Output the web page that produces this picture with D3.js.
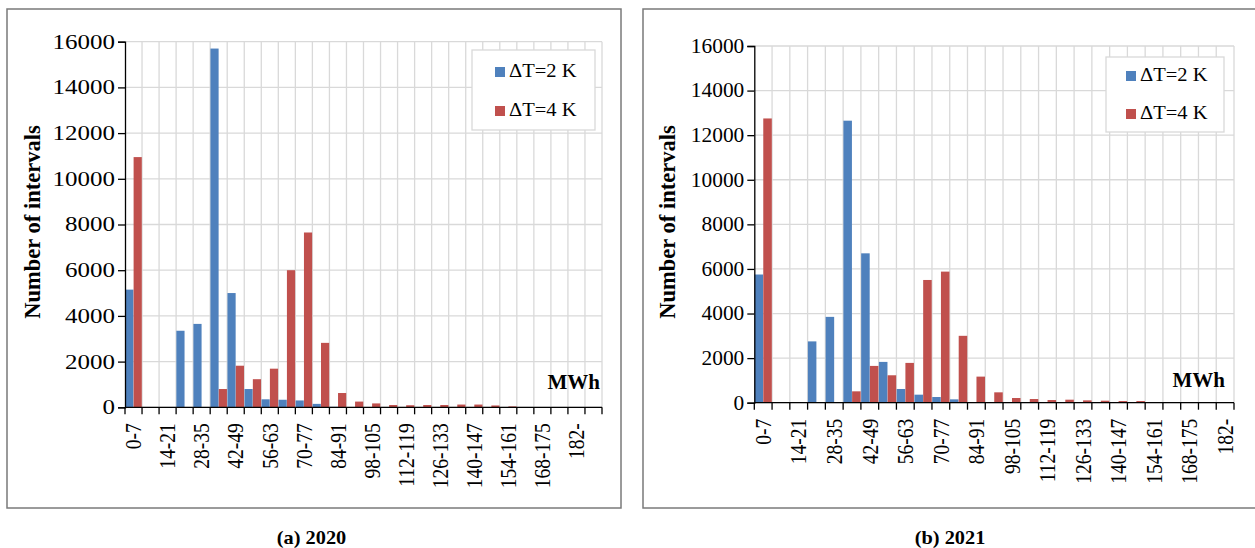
<!DOCTYPE html>
<html><head><meta charset="utf-8">
<script src="https://cdn.jsdelivr.net/npm/d3@7"></script>
<style>
html,body{margin:0;padding:0;background:#fff;}
svg{display:block;font-family:"Liberation Serif","Times New Roman",serif;}
</style></head>
<body>
<svg id="chart" width="1255" height="548"></svg>
<script>
// ---- data ----
const categories2020 = ["0-7","7-14","14-21","21-28","28-35","35-42","42-49","49-56","56-63","63-70","70-77","77-84","84-91","91-98","98-105","105-112","112-119","119-126","126-133","133-140","140-147","147-154","154-161","161-168","168-175","175-182","182-",""];
const categories2021 = ["0-7","7-14","14-21","21-28","28-35","35-42","42-49","49-56","56-63","63-70","70-77","77-84","84-91","91-98","98-105","105-112","112-119","119-126","126-133","133-140","140-147","147-154","154-161","161-168","168-175","175-182","182-"];
const dt2_2020 = [5150,0,0,3350,3650,15700,5000,800,350,330,300,150,20,10,5,0,0,0,0,0,0,0,0,0,0,0,0,0];
const dt4_2020 = [10950,0,0,0,0,800,1820,1230,1690,6000,7650,2820,625,250,170,100,90,100,100,120,120,80,40,10,0,0,0,0];
const dt2_2021 = [5750,0,0,2750,3850,12650,6700,1830,615,360,255,150,20,10,5,0,0,0,0,0,0,0,0,0,0,0,0];
const dt4_2021 = [12750,0,0,0,0,510,1650,1230,1785,5505,5880,3000,1170,465,210,165,120,135,105,90,75,75,30,20,10,5,0];
const seriesNames = ["\u0394T=2 K","\u0394T=4 K"];
const seriesColors = ["#4f81bd","#c0504d"];
const yTicks = [0,2000,4000,6000,8000,10000,12000,14000,16000];
const yTitle = "Number of intervals";
const unitLabel = "MWh";
const captions = ["(a) 2020","(b) 2021"];

const svg = d3.select("#chart");

function panel(cfg){
  const g = svg.append("g");
  // outer frame
  g.append("rect").attr("x",cfg.frame[0]).attr("y",cfg.frame[1]).attr("width",cfg.frame[2]).attr("height",cfg.frame[3])
    .attr("fill","#fff").attr("stroke","#7a7a7a").attr("stroke-width",1.5);
  const n = cfg.cats.length;
  const x = d3.scaleBand().domain(d3.range(n)).range([cfg.x0,cfg.x1]).paddingInner(0).paddingOuter(0);
  const xs = d3.scaleBand().domain([0,1]).range([0,x.bandwidth()]).paddingOuter(0.03).paddingInner(0.02);
  const y = d3.scaleLinear().domain([0,16000]).range([cfg.y0,cfg.y1]);
  // grid
  const grid = g.append("g").attr("stroke","#d9d9d9").attr("stroke-width",1.3);
  yTicks.forEach(t=>{ grid.append("line").attr("x1",cfg.x0).attr("x2",cfg.x1).attr("y1",y(t)).attr("y2",y(t)); });
  for(let i=1;i<=n;i++){ const xx = i<n ? x(i) : cfg.x1;
    grid.append("line").attr("x1",xx).attr("x2",xx).attr("y1",cfg.y1).attr("y2",cfg.y0); }
  // bars
  [cfg.s1,cfg.s2].forEach((arr,si)=>{
    g.append("g").selectAll("rect").data(arr).join("rect")
      .attr("x",(d,i)=>x(i)+xs(si)).attr("width",xs.bandwidth())
      .attr("y",d=>y(d)).attr("height",d=>cfg.y0-y(d))
      .attr("fill",seriesColors[si]);
  });
  // y axis
  const ya = g.append("g").attr("transform",`translate(${cfg.x0},0)`)
    .call(d3.axisLeft(y).tickValues(yTicks).tickSize(7).tickPadding(3).tickFormat(d3.format("d")));
  ya.select(".domain").attr("stroke","#000").attr("stroke-width",1.3);
  ya.selectAll(".tick line").attr("stroke","#000").attr("stroke-width",1.3);
  ya.selectAll(".tick text").attr("font-size",20).attr("fill","#000")
    .attr("font-family","Liberation Serif")
    .each(function(){ const t=d3.select(this); const xx=+t.attr("x");
      t.attr("x",null).attr("transform",`translate(${xx},0) scale(${cfg.ysx},1)`); });
  // x axis
  const xa = g.append("g").attr("transform",`translate(0,${cfg.y0})`);
  xa.append("line").attr("x1",cfg.x0).attr("x2",cfg.x1).attr("stroke","#000").attr("stroke-width",1.3);
  const bounds = d3.range(n+1).map(i=> i<n ? x(i) : cfg.x1);
  xa.selectAll("line.tk").data(bounds).join("line").attr("class","tk")
    .attr("x1",d=>d).attr("x2",d=>d).attr("y1",0).attr("y2",7).attr("stroke","#000").attr("stroke-width",1.3);
  xa.selectAll("text").data(d3.range(0,n,2).filter(i=>cfg.cats[i]!=="")).join("text")
    .attr("transform",i=>`translate(${x(i)+x.bandwidth()/2},16) scale(1.2,1) rotate(-90)`)
    .attr("text-anchor","end").attr("dy","0.33em").attr("font-size",19.5).attr("fill","#000")
    .text(i=>cfg.cats[i]);
  // y title
  g.append("text").attr("transform",`translate(${cfg.titleX},${cfg.titleY}) rotate(-90)`)
    .attr("text-anchor","middle").attr("font-weight","bold").attr("font-size",22.5).attr("fill","#000")
    .text(yTitle);
  // unit
  g.append("text").attr("x",cfg.unitX).attr("y",cfg.unitY).attr("text-anchor","end")
    .attr("font-weight","bold").attr("font-size",21).attr("fill","#000").text(unitLabel);
  // legend
  const L = cfg.legend;
  g.append("rect").attr("x",L[0]).attr("y",L[1]).attr("width",L[2]).attr("height",L[3])
    .attr("fill","#fff").attr("stroke","#d9d9d9").attr("stroke-width",1.3);
  seriesNames.forEach((nm,i)=>{
    const yy = L[1] + L[4] + i*L[5];
    g.append("rect").attr("x",L[0]+L[6]).attr("y",yy-10).attr("width",10).attr("height",10).attr("fill",seriesColors[i]);
    g.append("text").attr("transform",`translate(${L[0]+L[6]+14},${yy}) scale(1.08,1)`)
      .attr("font-size",19).attr("fill","#000").text(nm);
  });
  // caption
  svg.append("text").attr("transform",`translate(${cfg.capX},544) scale(1.1,1)`).attr("text-anchor","middle")
    .attr("font-weight","bold").attr("font-size",18.5).attr("fill","#000").text(cfg.caption);
}

panel({cats:categories2020, s1:dt2_2020, s2:dt4_2020, frame:[7,9,614,499],
  x0:125, x1:602, y0:407.3, y1:41.7, ysx:1.25, titleX:40, titleY:222,
  unitX:600, unitY:389, legend:[472,50,123,80,27,39,23], capX:311.5, caption:captions[0]});
panel({cats:categories2021, s1:dt2_2021, s2:dt4_2021, frame:[643,9,620,499],
  x0:754.3, x1:1234, y0:402.7, y1:46, ysx:1.07, titleX:675, titleY:222,
  unitX:1225, unitY:387, legend:[1106,57,118,75,24,38,20], capX:950, caption:captions[1]});
</script>
</body></html>
